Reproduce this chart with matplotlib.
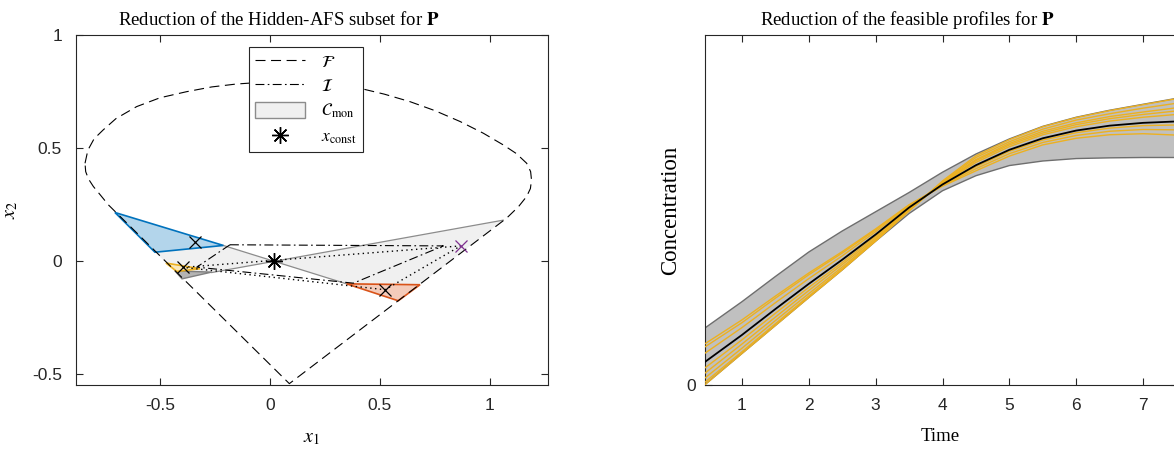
import numpy as np
import matplotlib.pyplot as plt
from matplotlib.patches import Polygon

plt.rcParams['font.family'] = ['Liberation Sans', 'DejaVu Sans']
plt.rcParams['mathtext.fontset'] = 'stix'
plt.rcParams['axes.unicode_minus'] = False

# ---- left panel: boundary of F
F_x = [-0.841, -0.828, -0.800, -0.758, -0.700, -0.606, -0.500, -0.379, -0.265, -0.152,
       -0.076, 0.0, 0.090, 0.182, 0.300, 0.409, 0.520, 0.636, 0.750, 0.864, 0.970,
       1.061, 1.120, 1.167, 1.185, 1.189, 1.184, 1.167, 1.130, 1.076,
       0.088, -0.735, -0.770, -0.803, -0.825, -0.838, -0.841]
F_y = [0.432, 0.490, 0.540, 0.580, 0.630, 0.683, 0.722, 0.749, 0.770, 0.783,
       0.788, 0.789, 0.788, 0.783, 0.776, 0.764, 0.738, 0.705, 0.665, 0.617, 0.565,
       0.513, 0.475, 0.432, 0.395, 0.358, 0.320, 0.285, 0.240, 0.189,
       -0.544, 0.248, 0.290, 0.329, 0.362, 0.395, 0.432]

# inner polygon I
I_x = [-0.182, 0.788, 0.379, -0.333, -0.182]
I_y = [0.071, 0.066, -0.099, -0.028, 0.071]

# C_mon (bow tie through x_const)
C_x = [0.018, -0.212, -0.523, -0.432, -0.265, 0.018, 1.06, 0.682, 0.348, 0.018]
C_y = [-0.003, 0.068, 0.038, -0.045, -0.052, -0.003, 0.18, -0.106, -0.102, -0.003]
C_edge1_x = [-0.212, 0.348]
C_edge1_y = [0.068, -0.102]
C_edge2_x = [-0.265, 1.06]
C_edge2_y = [-0.052, 0.18]

x_const = (0.018, -0.003)

blue_tri = [(-0.705, 0.214), (-0.523, 0.038), (-0.212, 0.068)]
red_tri = [(0.348, -0.102), (0.682, -0.106), (0.583, -0.177)]
yel_tri = [(-0.473, -0.010), (-0.318, -0.035), (-0.424, -0.047)]
gray_tri = [(-0.432, -0.045), (-0.265, -0.050), (-0.40, -0.080)]

blue_x = (-0.341, 0.085)
red_x = (0.523, -0.128)
yel_x = (-0.394, -0.029)
pur_x = (0.867, 0.066)

# ---- right panel: profiles
T = [0.44, 1, 1.5, 2, 2.5, 3, 3.5, 4, 4.5, 5, 5.5, 6, 6.5, 7, 7.5]
upper = [0.162, 0.238, 0.31, 0.38, 0.44, 0.495, 0.55, 0.608, 0.66, 0.703, 0.739, 0.765, 0.785, 0.802, 0.819]
lower = [0.0, 0.09, 0.17, 0.25, 0.329, 0.411, 0.49, 0.555, 0.598, 0.627, 0.64, 0.647, 0.649, 0.65, 0.65]
center = [0.065, 0.143, 0.217, 0.289, 0.358, 0.430, 0.507, 0.573, 0.628, 0.672, 0.705, 0.727, 0.741, 0.749, 0.753]
profiles = [
    [0.000, 0.090, 0.170, 0.250, 0.329, 0.411, 0.497, 0.583, 0.655, 0.701, 0.738, 0.764, 0.784, 0.801, 0.818],
    [0.007, 0.095, 0.175, 0.254, 0.332, 0.413, 0.498, 0.581, 0.650, 0.695, 0.731, 0.757, 0.775, 0.791, 0.805],
    [0.019, 0.105, 0.184, 0.261, 0.337, 0.416, 0.500, 0.579, 0.644, 0.690, 0.725, 0.749, 0.767, 0.780, 0.792],
    [0.033, 0.117, 0.194, 0.270, 0.344, 0.420, 0.502, 0.577, 0.641, 0.686, 0.720, 0.744, 0.761, 0.773, 0.783],
    [0.048, 0.129, 0.205, 0.279, 0.350, 0.425, 0.504, 0.576, 0.636, 0.681, 0.715, 0.738, 0.754, 0.765, 0.773],
    [0.090, 0.164, 0.235, 0.304, 0.369, 0.438, 0.511, 0.572, 0.624, 0.668, 0.700, 0.721, 0.734, 0.741, 0.743],
    [0.108, 0.178, 0.248, 0.315, 0.377, 0.443, 0.514, 0.570, 0.618, 0.661, 0.693, 0.713, 0.725, 0.730, 0.729],
    [0.117, 0.186, 0.254, 0.320, 0.381, 0.446, 0.515, 0.568, 0.612, 0.654, 0.686, 0.705, 0.715, 0.718, 0.714],
]

serif = 'Liberation Serif'
axcol = '#262626'

fig = plt.figure(figsize=(11.74, 4.54), dpi=100)
ax1 = fig.add_axes([76 / 1174, 69 / 454, 472 / 1174, 350 / 454])
ax2 = fig.add_axes([704.5 / 1174, 69 / 454, 472 / 1174, 350 / 454])

# left
ax1.add_patch(Polygon(np.column_stack([C_x, C_y]), closed=True, fc='#f0f0f0', ec='none',
                      zorder=1, label=r'$\mathcal{C}_{\rm mon}$'))
ax1.plot(C_edge1_x, C_edge1_y, color='#8c8c8c', lw=0.9, zorder=2)
ax1.plot(C_edge2_x, C_edge2_y, color='#8c8c8c', lw=0.9, zorder=2)

ax1.add_patch(Polygon(blue_tri, closed=True, fc='#b3d5eb', ec='#0072BD', lw=1.2, zorder=3))
ax1.add_patch(Polygon(red_tri, closed=True, fc='#f4cbba', ec='#D95319', lw=1.2, zorder=3))
ax1.add_patch(Polygon(gray_tri, closed=True, fc='#b4b4b4', ec='#808080', lw=1.0, zorder=3))
ax1.add_patch(Polygon(yel_tri, closed=True, fc='#f9e8bc', ec='#EDB120', lw=1.2, zorder=4))

ax1.plot(F_x, F_y, color='k', lw=0.8, ls=(0, (9, 5)), zorder=5, label=r'$\mathcal{F}$')
ax1.plot(I_x, I_y, color='k', lw=0.8, ls=(0, (8, 3, 1.5, 3)), zorder=5, label=r'$\mathcal{I}$')

# dotted triangle between the marked points
ax1.plot([yel_x[0], pur_x[0], red_x[0], yel_x[0]], [yel_x[1], pur_x[1], red_x[1], yel_x[1]],
         color='k', lw=1.0, ls=(0, (1, 2.5)), zorder=5)

for p in (blue_x, red_x, yel_x):
    ax1.plot(p[0], p[1], marker='x', color='k', ms=9, mew=0.9, ls='none', zorder=6)
ax1.plot(pur_x[0], pur_x[1], marker='x', color='#7E2F8E', ms=9, mew=0.9, ls='none', zorder=6)
ax1.plot(x_const[0], x_const[1], marker=(8, 2, 0), color='k', ms=12, mew=1.0, ls='none',
         zorder=7, label=r'$x_{\rm const}$')

ax1.set_xlim(-0.882, 1.264)
ax1.set_ylim(-0.55, 1.0)
ax1.set_xticks([-0.5, 0, 0.5, 1])
ax1.set_xticklabels(['-0.5', '0', '0.5', '1'])
ax1.set_yticks([-0.5, 0, 0.5, 1])
ax1.set_yticklabels(['-0.5', '0', '0.5', '1'])
ax1.set_xlabel(r'$x_1$', fontsize=14.5, labelpad=11)
ax1.set_ylabel(r'$x_2$', fontsize=14.5, labelpad=9)
ax1.set_title(r'Reduction of the Hidden-AFS subset for $\mathbf{P}$', family=serif,
              fontsize=13.5, x=0.43, pad=7)

handles, labels = ax1.get_legend_handles_labels()
order = [labels.index(l) for l in [r'$\mathcal{F}$', r'$\mathcal{I}$', r'$\mathcal{C}_{\rm mon}$', r'$x_{\rm const}$']]
leg = ax1.legend([handles[i] for i in order], [labels[i] for i in order], loc='upper center',
                 bbox_to_anchor=(0.487, 0.982), fontsize=12.5, frameon=True, fancybox=False,
                 edgecolor='#262626', framealpha=1, handlelength=2.9, handleheight=1.1,
                 borderpad=0.35, labelspacing=0.42, handletextpad=0.9, borderaxespad=0.3)
leg.get_frame().set_linewidth(0.8)
leg.legend_handles[2].set_edgecolor('#8c8c8c')

# right
ax2.fill(np.concatenate([T, T[::-1]]), np.concatenate([upper, lower[::-1]]),
         fc='#c0c0c0', ec='none', zorder=1)
ax2.plot(T, upper, color='#6e6e6e', lw=1.0, zorder=2)
ax2.plot(T, lower, color='#6e6e6e', lw=1.0, zorder=2)
for prof in profiles:
    ax2.plot(T, prof, color='#EDB120', lw=1.0, zorder=3)
ax2.plot(T, center, color='k', lw=1.3, zorder=4)

ax2.set_xlim(0.44, 7.5)
ax2.set_ylim(0, 1)
ax2.set_xticks([1, 2, 3, 4, 5, 6, 7])
ax2.set_yticks([0])
ax2.set_yticklabels(['0'])
ax2.set_xlabel('Time', family=serif, fontsize=13.5, labelpad=11)
ax2.set_ylabel('Concentration', family=serif, fontsize=16.5, labelpad=4)
ax2.set_title(r'Reduction of the feasible profiles for $\mathbf{P}$', family=serif,
              fontsize=13.5, x=0.43, pad=7)

for ax in (ax1, ax2):
    for s in ax.spines.values():
        s.set_color(axcol)
        s.set_linewidth(0.8)
    ax.tick_params(direction='in', length=5, width=0.8, colors=axcol, labelsize=12.5,
                   top=True, right=True, labelcolor='#262626')
    ax.tick_params(axis='x', pad=9)
ax1.tick_params(axis='y', pad=10)
ax2.tick_params(axis='y', pad=6)

fig.savefig('out.png', dpi=100)
